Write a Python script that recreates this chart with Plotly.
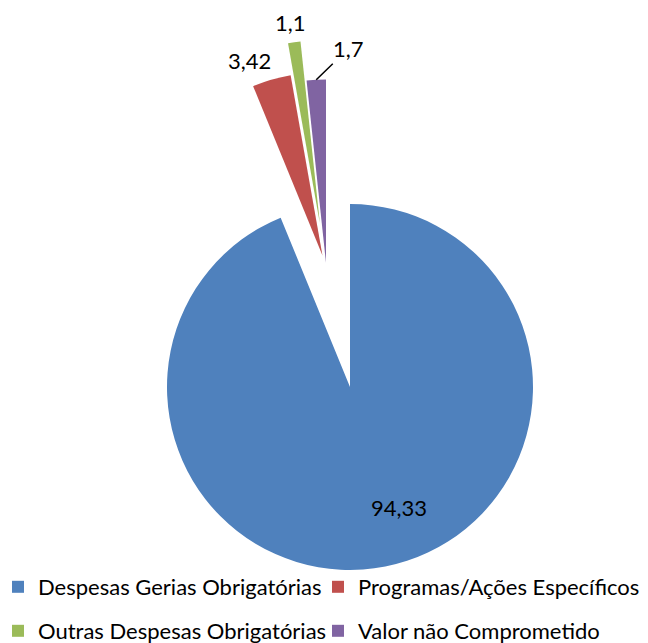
import math
import plotly.graph_objects as go

# data
labels = ["Despesas Gerias Obrigatórias", "Programas/Ações Específicos",
          "Outras Despesas Obrigatórias", "Valor não Comprometido"]
values = [94.33, 3.42, 1.1, 1.7]
colors = ["#4F81BD", "#C0504D", "#9BBB59", "#8064A2"]
pulls = [0.0, 0.075, 0.25, 0.034]

# layout (page pixels; the page body adds an 8px offset)
OFF = 8
W, H = 640, 635
MB = 70
PH = H - MB
R = 183
BIG_C = (350, 387)        # centre of the exploded big slice
SMALL_C = (326.3, 268.7)  # centre of the small slices
label_shift = [(24, -5), (-22, -19), (-4, -20), (32, -31)]
leader = [False, False, False, True]
legend_pos = [(-10, 587), (310, 587), (-10, 631), (310, 631)]
FONT = "Lato"


def paper(x, y):
    return (x - OFF) / W, 1 - (y - OFF) / PH


def dom(cx, cy, half):
    x0, y1 = paper(cx - half, cy + half)
    x1, y0 = paper(cx + half, cy - half)
    return dict(x=[x0, x1], y=[y1, y0])


fig = go.Figure()

# big slice, pulled away from the rest
fig.add_trace(go.Pie(
    labels=labels, values=values, sort=False, direction="clockwise", rotation=0,
    marker=dict(colors=[colors[0]] + ["rgba(0,0,0,0)"] * 3, line=dict(width=0)),
    textinfo="none", domain=dom(*BIG_C, R), showlegend=False,
    hoverinfo="label+value",
))

# small slices
fig.add_trace(go.Pie(
    labels=labels, values=values, sort=False, direction="clockwise", rotation=0,
    marker=dict(colors=["rgba(0,0,0,0)"] + colors[1:], line=dict(width=0)),
    pull=pulls, textinfo="none",
    domain=dom(*SMALL_C, R * (1 + max(pulls))), showlegend=False,
    hoverinfo="label+value",
))

# value labels, anchored on the slice geometry
total = sum(values)
start = 0
for i, v in enumerate(values):
    mid = math.radians((start + v / 2) / total * 360)
    start += v
    dx, dy = math.sin(mid), -math.cos(mid)
    if i == 0:
        cx, cy = BIG_C
        d = 0.7 * R
    else:
        cx, cy = SMALL_C
        d = R * (1 + pulls[i])
    px, py = paper(cx + dx * d, cy + dy * d)
    sx, sy = label_shift[i]
    fig.add_annotation(
        x=px, y=py, xref="paper", yref="paper",
        text=f"{v:g}".replace(".", ","),
        showarrow=True, ax=sx, ay=sy, arrowhead=0, standoff=0,
        arrowwidth=1.5, arrowcolor="black" if leader[i] else "rgba(0,0,0,0)",
        font=dict(size=22, family=FONT, color="black"),
    )

# legend entries, one legend per entry so the columns sit like the original
for i, (lab, col) in enumerate(zip(labels, colors)):
    fig.add_trace(go.Scatter(
        x=[None], y=[None], mode="markers", name=lab,
        marker=dict(symbol="square", size=12, color=col),
        legend="legend" if i == 0 else f"legend{i + 1}",
    ))

legend_style = dict(orientation="h", xanchor="left", yanchor="middle",
                    font=dict(size=22, family=FONT, color="black"),
                    bgcolor="rgba(0,0,0,0)", itemclick=False)
legends = {}
for i, (lx, ly) in enumerate(legend_pos):
    key = "legend" if i == 0 else f"legend{i + 1}"
    legends[key] = dict(x=lx / W, y=paper(0, ly)[1], **legend_style)

fig.update_layout(
    width=W, height=H,
    margin=dict(l=0, r=0, t=0, b=MB, autoexpand=False),
    paper_bgcolor="white", plot_bgcolor="white",
    xaxis=dict(visible=False), yaxis=dict(visible=False),
    **legends,
)

fig.write_html("out.html")
